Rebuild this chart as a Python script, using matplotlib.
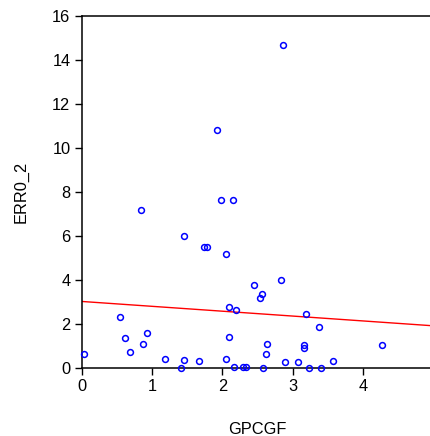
import matplotlib
matplotlib.use("Agg")
import matplotlib.pyplot as plt

plt.rcParams['font.family'] = ['Liberation Sans', 'DejaVu Sans']

# points
gpcgf = [0.04, 0.55, 0.62, 0.69, 0.84, 0.87, 0.93, 1.18, 1.41, 1.45,
         1.45, 1.67, 1.74, 1.78, 1.98, 1.93, 2.86, 2.15, 2.05, 2.05,
         2.10, 2.19, 2.10, 2.17, 2.30, 2.33, 2.45, 2.54, 2.57, 2.58,
         2.62, 2.64, 2.84, 2.89, 3.08, 3.16, 3.16, 3.19, 3.23, 3.37,
         3.40, 3.57, 4.27]
err0_2 = [0.62, 2.31, 1.38, 0.73, 7.20, 1.08, 1.58, 0.41, 0.01, 6.01,
          0.38, 0.32, 5.53, 5.53, 7.64, 10.82, 14.71, 7.64, 5.18, 0.39,
          2.76, 2.66, 1.43, 0.06, 0.05, 0.05, 3.78, 3.17, 3.37, 0.02,
          0.64, 1.08, 4.02, 0.26, 0.26, 0.93, 1.03, 2.46, 0.02, 1.87,
          0.02, 0.30, 1.05]

# fitted line end points
fit_x = [0, 5]
fit_y = [3.03, 1.92]

fig = plt.figure(figsize=(4.31, 4.36), dpi=100)
ax = fig.add_axes([81.5 / 431, 68 / 436, 352 / 431, 351.5 / 436])

ax.plot(gpcgf, err0_2, 'o', ms=4.2, mfc='none', mec='blue', mew=1.1, clip_on=False, zorder=3)
ax.plot(fit_x, fit_y, color='red', lw=1)

ax.set_xlim(0, 5)
ax.set_ylim(0, 16)
ax.set_xticks([0, 1, 2, 3, 4, 5])
ax.set_yticks(range(0, 17, 2))

for s in ['left', 'bottom', 'top', 'right']:
    ax.spines[s].set_linewidth(1.1)
ax.tick_params(direction='out', length=5, width=1, labelsize=11.8, pad=3)

ax.set_xlabel('GPCGF', fontsize=11.8)
ax.set_ylabel('ERR0_2', fontsize=11.8)
ax.xaxis.set_label_coords(0.5, -0.155)
ax.yaxis.set_label_coords(-0.15, 0.5)

fig.savefig('out.png', dpi=100)
